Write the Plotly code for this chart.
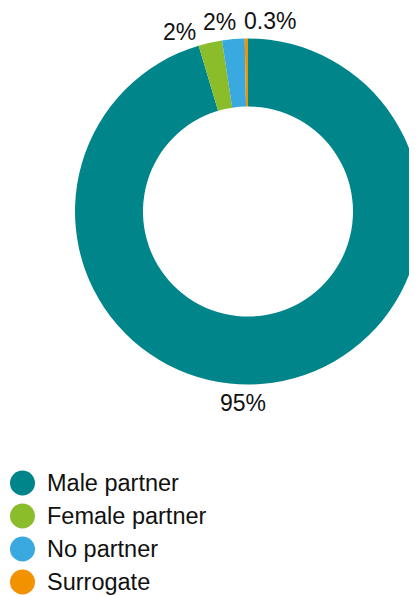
import math
import plotly.graph_objects as go

categories = ["Male partner", "Female partner", "No partner", "Surrogate"]
values = [95.4, 2.2, 2.1, 0.3]
value_labels = ["95%", "2%", "2%", "0.3%"]
colors = ["#00868A", "#8BBD2B", "#3AA9E0", "#F39200"]

W, H = 417, 596
FONT = "Liberation Sans, Arial, Helvetica, sans-serif"

# page body offsets the figure by 8px; geometry given in figure pixels
cx, cy, r = 240, 203.5, 173
hole = 0.607

fig = go.Figure()
fig.add_trace(go.Pie(
    labels=categories, values=values,
    textinfo="none",
    hole=hole, sort=False, direction="clockwise", rotation=0,
    marker=dict(colors=colors, line=dict(width=0)),
    showlegend=False, hoverinfo="label+percent",
    domain=dict(x=[(cx - r) / W, (cx + r) / W],
                y=[1 - (cy + r) / H, 1 - (cy - r) / H]),
))

annotations, shapes = [], []

# value labels: placed around the ring at each slice's mid-angle, nudged apart
label_radius = 192
label_nudge_deg = [9.8, -8.4, -3.8, 7.2]
total = sum(values)
cum = 0
for v, txt, nudge in zip(values, value_labels, label_nudge_deg):
    mid = (cum + v / 2) / total * 360 + nudge
    cum += v
    a = math.radians(mid)
    px = cx + label_radius * math.sin(a)
    py = cy - label_radius * math.cos(a)
    annotations.append(dict(text=txt, xref="paper", yref="paper",
                            x=px / W, y=1 - py / H, xanchor="center", yanchor="middle",
                            showarrow=False, font=dict(size=23, color="#111111", family=FONT)))

# legend with round markers
ly0, ldy, lx, lrad = 475, 33, 14.5, 12.5
for i, (cat, col) in enumerate(zip(categories, colors)):
    yc = ly0 + i * ldy
    shapes.append(dict(type="circle", xref="paper", yref="paper",
                       x0=(lx - lrad) / W, x1=(lx + lrad) / W,
                       y0=1 - (yc + lrad) / H, y1=1 - (yc - lrad) / H,
                       fillcolor=col, line=dict(width=0)))
    annotations.append(dict(text=cat, xref="paper", yref="paper",
                            x=37 / W, y=1 - yc / H, xanchor="left", yanchor="middle",
                            showarrow=False, font=dict(size=23.5, color="#111111", family=FONT)))

fig.update_layout(
    width=W, height=H, margin=dict(l=0, r=0, t=0, b=0),
    paper_bgcolor="white", plot_bgcolor="white",
    shapes=shapes, annotations=annotations,
    font=dict(family=FONT),
)
fig.write_html("out.html")
